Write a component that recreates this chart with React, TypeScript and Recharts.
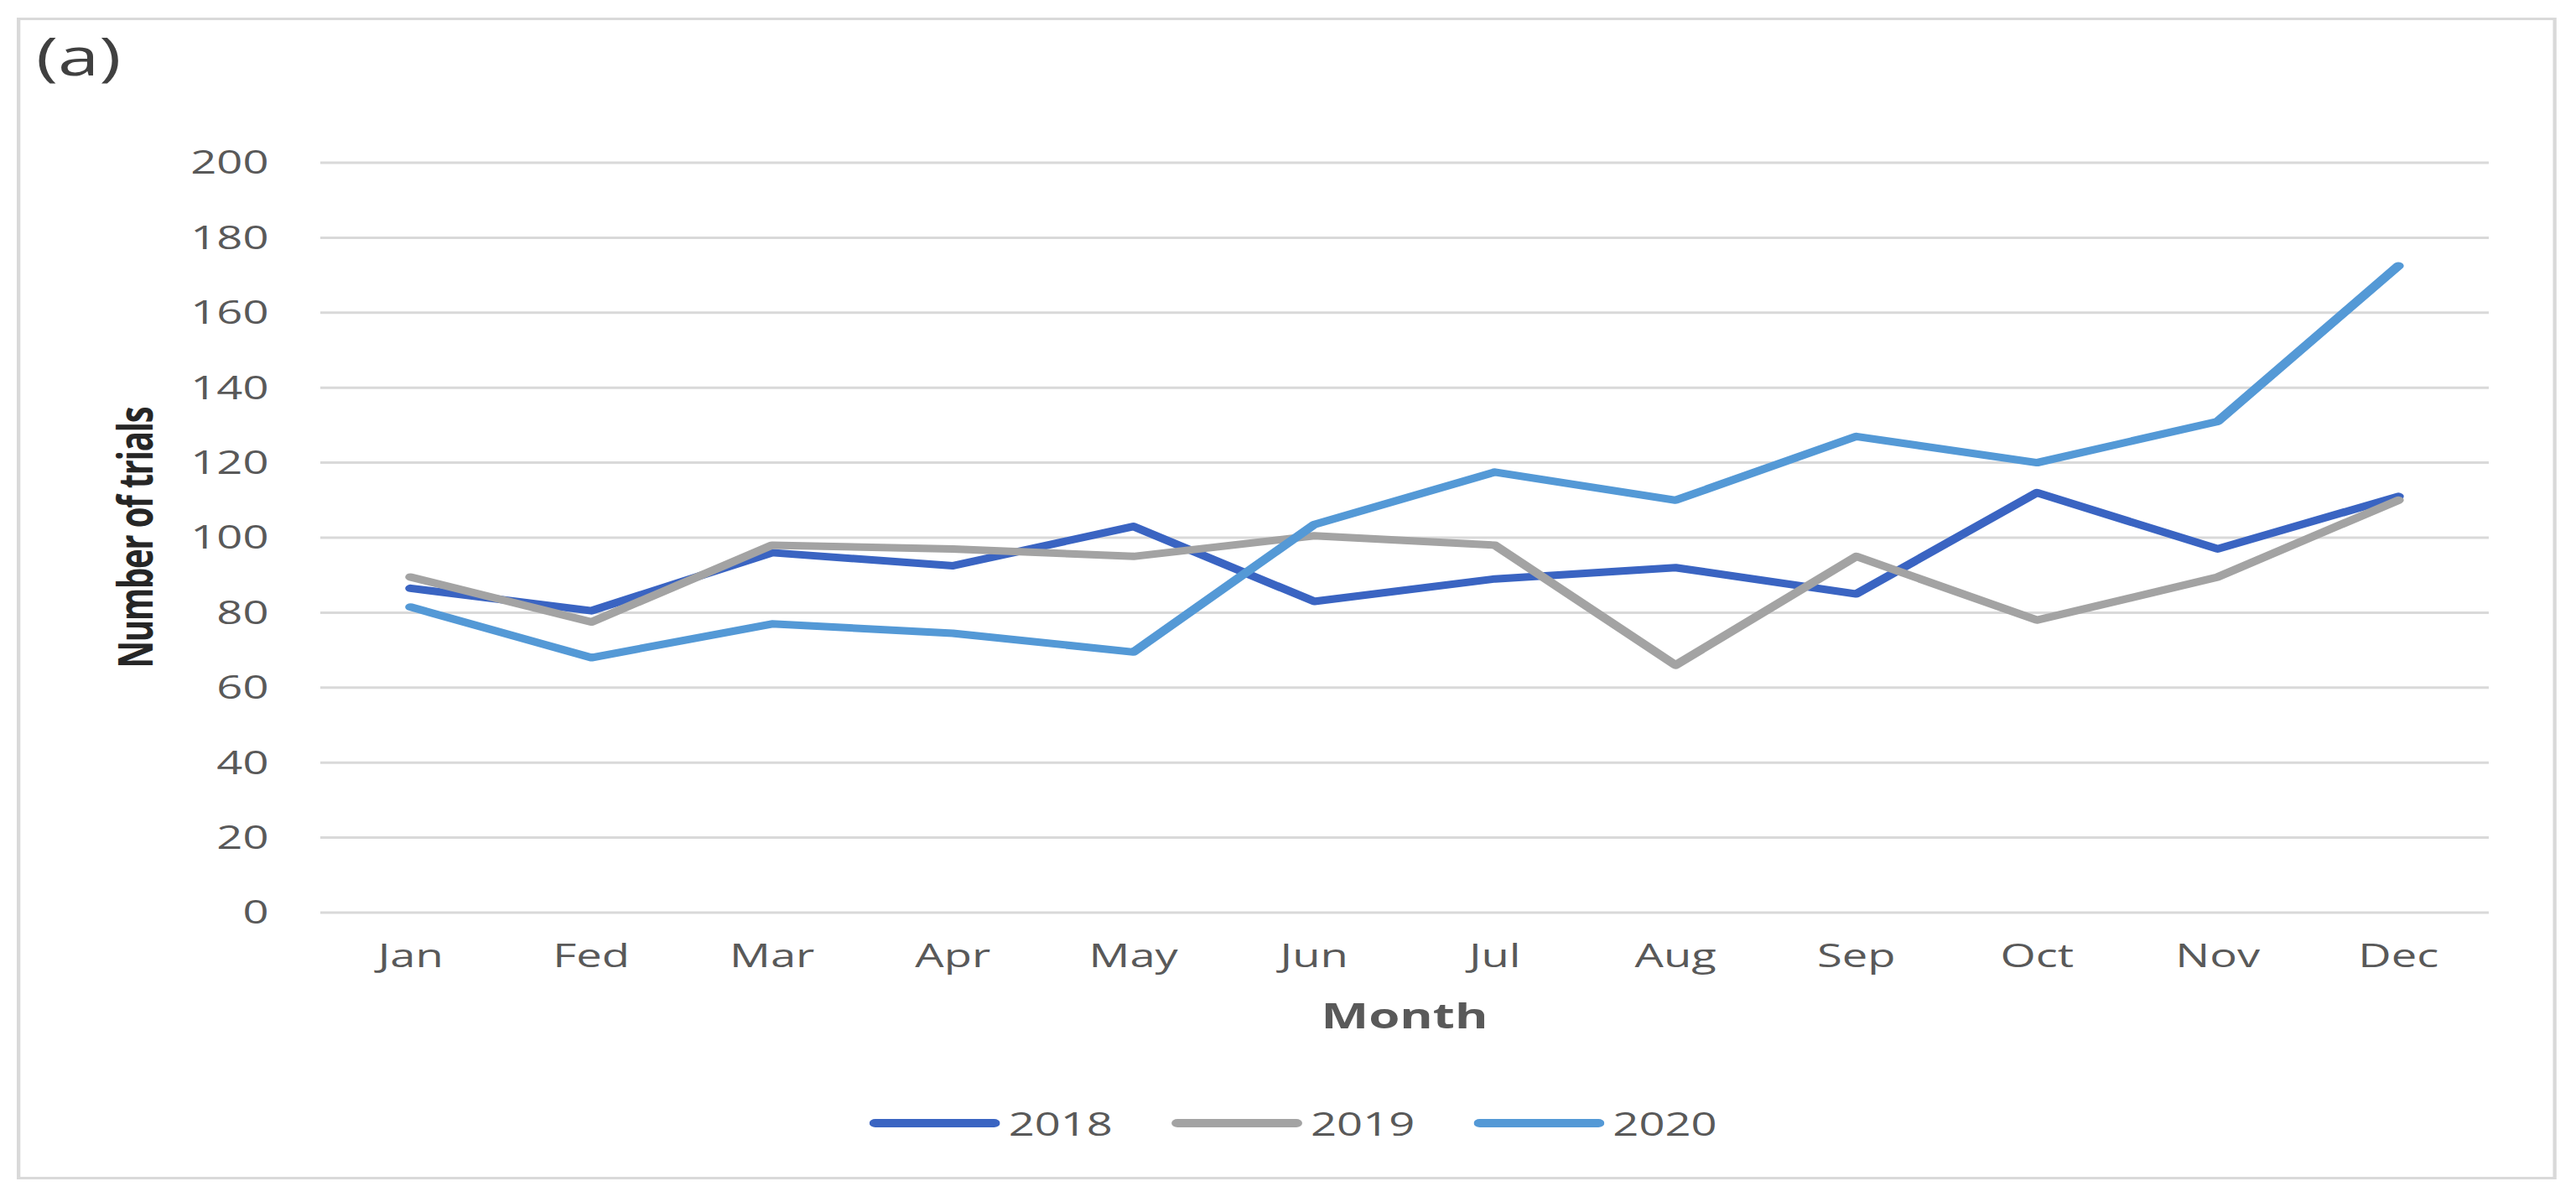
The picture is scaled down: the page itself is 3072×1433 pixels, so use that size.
import React from "react";
import {
  LineChart,
  Line,
  XAxis,
  YAxis,
  CartesianGrid,
  Legend,
} from "recharts";

const months = ["Jan", "Fed", "Mar", "Apr", "May", "Jun", "Jul", "Aug", "Sep", "Oct", "Nov", "Dec"];
const trials2018 = [86.5, 80.5, 96, 92.5, 103, 83, 89, 92, 85, 112, 97, 111];
const trials2019 = [89.5, 77.5, 98, 97, 95, 100.5, 98, 66, 95, 78, 89.5, 110];
const trials2020 = [81.5, 68, 77, 74.5, 69.5, 103.5, 117.5, 110, 127, 120, 131, 172.5];
const yTicks = [0, 20, 40, 60, 80, 100, 120, 140, 160, 180, 200];

const series = [
  { key: "2018", color: "#3a64c2" },
  { key: "2019", color: "#a3a3a3" },
  { key: "2020", color: "#5499d6" },
];

// the source picture is stretched sideways, so the whole chart is drawn narrow and scaled
const S = 1.43;
const W = 3072 / S;
const FONT = "'Open Sans', sans-serif";

const data = months.map((m, i) => ({
  month: m,
  "2018": trials2018[i],
  "2019": trials2019[i],
  "2020": trials2020[i],
}));

function YLabel() {
  const x = 127;
  const y = 641;
  return (
    <text
      x={x}
      y={y}
      transform={`rotate(-90, ${x}, ${y})`}
      textAnchor="middle"
      fontSize={40}
      fontWeight="bold"
      letterSpacing={-1.2}
      fill="#262626"
      fontFamily={FONT}
    >
      Number of trials
    </text>
  );
}

function MonthLabel(props: any) {
  const vb = props.viewBox || {};
  const x = vb.width ? vb.x + vb.width / 2 : 1171;
  return (
    <text x={x} y={1226} textAnchor="middle" fontSize={42} fontWeight="bold" fill="#595959" fontFamily={FONT}>
      Month
    </text>
  );
}

function LegendBox() {
  return (
    <div style={{ display: "flex", fontFamily: FONT }}>
      {series.map((s) => (
        <div key={s.key} style={{ width: 252, height: 52, display: "flex", alignItems: "center" }}>
          <svg width={109} height={14}>
            <line x1={5} x2={104} y1={7} y2={7} stroke={s.color} strokeWidth={10} strokeLinecap="round" />
          </svg>
          <span style={{ marginLeft: 7, fontSize: 38, lineHeight: "52px", color: "#595959" }}>{s.key}</span>
        </div>
      ))}
    </div>
  );
}

export default function App() {
  return (
    <div
      style={{
        position: "absolute",
        left: 0,
        top: 0,
        width: W,
        height: 1433,
        background: "#fff",
        transform: `scaleX(${S})`,
        transformOrigin: "0 0",
        fontFamily: FONT,
      }}
    >
      <div
        style={{
          position: "absolute",
          left: 14,
          top: 21,
          width: 2118,
          height: 1385,
          boxSizing: "border-box",
          border: "3px solid #d9d9d9",
        }}
      />
      <div style={{ position: "absolute", left: 30, top: 35, fontSize: 62, lineHeight: 1, color: "#404040" }}>
        (a)
      </div>
      <div style={{ position: "absolute", left: 0, top: 0 }}>
        <LineChart
          width={W}
          height={1433}
          data={data}
          margin={{ top: 194, right: 72.75, bottom: 225, left: 0 }}
          style={{ fontFamily: FONT }}
        >
          <CartesianGrid vertical={false} stroke="#d9d9d9" strokeWidth={3} />
          <XAxis
            dataKey="month"
            height={120}
            interval={0}
            axisLine={false}
            tickLine={false}
            tickSize={0}
            tickMargin={38}
            padding={{ left: 75.35, right: 75.35 }}
            tick={{ fontSize: 38, fill: "#595959", fontFamily: FONT }}
            label={<MonthLabel />}
          />
          <YAxis
            width={267.1}
            domain={[0, 200]}
            ticks={yTicks}
            interval={0}
            axisLine={false}
            tickLine={false}
            tickSize={0}
            tickMargin={43}
            tick={{ fontSize: 38, fill: "#595959", fontFamily: FONT }}
            label={<YLabel />}
          />
          {series.map((s) => (
            <Line
              key={s.key}
              type="linear"
              dataKey={s.key}
              stroke={s.color}
              strokeWidth={9}
              strokeLinecap="round"
              strokeLinejoin="round"
              dot={false}
              activeDot={false}
              isAnimationActive={false}
            />
          ))}
          <Legend
            layout="horizontal"
            align="center"
            verticalAlign="middle"
            wrapperStyle={{ left: 725, top: 1313, width: "auto", height: 52 }}
            content={<LegendBox />}
          />
        </LineChart>
      </div>
    </div>
  );
}
